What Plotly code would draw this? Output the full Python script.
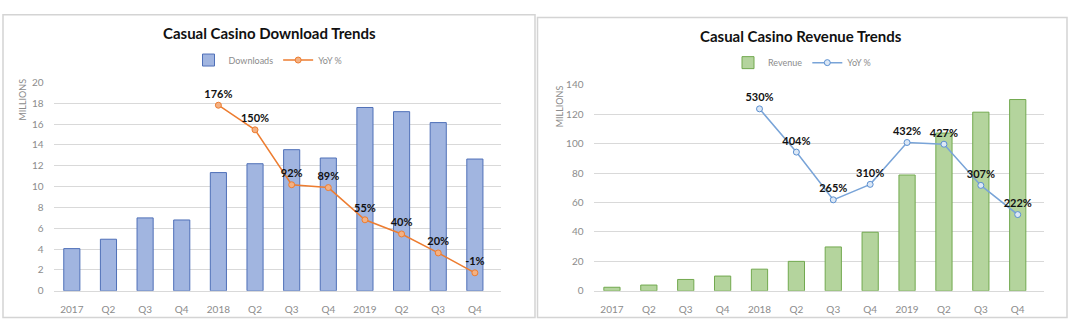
import plotly.graph_objects as go

categories = ["2017", "Q2", "Q3", "Q4", "2018", "Q2 ", "Q3 ", "Q4 ", "2019", "Q2  ", "Q3  ", "Q4  "]
tick_labels = ["2017", "Q2", "Q3", "Q4", "2018", "Q2", "Q3", "Q4", "2019", "Q2", "Q3", "Q4"]

downloads = [4.05, 4.95, 7.0, 6.8, 11.35, 12.2, 13.55, 12.75, 17.6, 17.2, 16.15, 12.65]
downloads_yoy_cats = categories[4:]
downloads_yoy = [176, 150, 92, 89, 55, 40, 20, -1]

revenue = [2.4, 3.9, 7.7, 10.0, 14.7, 20.0, 29.8, 39.8, 78.7, 107.2, 121.4, 130.0]
revenue_yoy_cats = categories[4:]
revenue_yoy = [530, 404, 265, 310, 432, 427, 307, 222]

FONT = "Lato"
GRAY = "#8c8c8c"
GRID = "#d9d9d9"
W, H = 1080, 336

def px(x):
    return x / W

def py(y):
    return 1 - y / H

fig = go.Figure()

# Left chart
fig.add_trace(go.Bar(
    x=categories, y=downloads, name="Downloads",
    marker=dict(color="#a1b5e0", line=dict(color="#4f70b8", width=1)),
    xaxis="x", yaxis="y", legend="legend", width=0.44,
))
fig.add_trace(go.Scatter(
    x=downloads_yoy_cats, y=downloads_yoy, name="YoY %",
    mode="lines+markers+text",
    text=[f"{v}%" for v in downloads_yoy], textposition="top center",
    textfont=dict(family=FONT, size=11, color="#111111", weight="bold"),
    line=dict(color="#ed7d31", width=1.5),
    marker=dict(symbol="circle", size=6, color="#f4b183", line=dict(color="#ed7d31", width=1)),
    xaxis="x", yaxis="y3", legend="legend",
))

# Right chart
fig.add_trace(go.Bar(
    x=categories, y=revenue, name="Revenue",
    marker=dict(color="#b4d49d", line=dict(color="#72a94f", width=1)),
    xaxis="x2", yaxis="y2", legend="legend2", width=0.44,
))
fig.add_trace(go.Scatter(
    x=revenue_yoy_cats, y=revenue_yoy, name="YoY %",
    mode="lines+markers+text",
    text=[f"{v}%" for v in revenue_yoy], textposition="top center",
    textfont=dict(family=FONT, size=11, color="#111111", weight="bold"),
    line=dict(color="#79a4d8", width=1.5),
    marker=dict(symbol="circle", size=6, color="#dce8f6", line=dict(color="#5b8fd0", width=1)),
    xaxis="x2", yaxis="y4", legend="legend2",
))

xcommon = dict(
    type="category", categoryorder="array", categoryarray=categories,
    tickmode="array", tickvals=categories, ticktext=tick_labels,
    tickfont=dict(family=FONT, size=10, color=GRAY),
    showgrid=False, showline=True, linecolor=GRID, linewidth=1,
    ticks="", ticklabelstandoff=9, fixedrange=True,
)
ycommon = dict(
    tickfont=dict(family=FONT, size=10, color=GRAY),
    showgrid=True, gridcolor=GRID, gridwidth=1, zeroline=False,
    showline=False, ticks="", ticklabelstandoff=9, fixedrange=True,
)

fig.update_layout(
    width=W, height=H, autosize=False,
    margin=dict(l=0, r=0, t=0, b=0),
    paper_bgcolor="white", plot_bgcolor="white",
    font=dict(family=FONT),
    bargap=0.56,
    xaxis=dict(domain=[px(53.5), px(501)], anchor="y", **xcommon),
    yaxis=dict(domain=[py(294.3), py(78.3)], range=[0, 20], dtick=2, anchor="x", **ycommon),
    yaxis3=dict(overlaying="y", range=[-20, 200], visible=False, anchor="x"),
    xaxis2=dict(domain=[px(593.5), px(1044)], anchor="y2", **xcommon),
    yaxis2=dict(domain=[py(294.3), py(80.7)], range=[0, 140], dtick=20, anchor="x2", **ycommon),
    yaxis4=dict(overlaying="y2", range=[0, 600], visible=False, anchor="x2"),
    legend=dict(orientation="h", x=px(268), y=py(55), xanchor="center", yanchor="middle",
                font=dict(family=FONT, size=9, color=GRAY), bgcolor="rgba(0,0,0,0)",
                itemwidth=30, tracegroupgap=0),
    legend2=dict(orientation="h", x=px(802), y=py(57.7), xanchor="center", yanchor="middle",
                 font=dict(family=FONT, size=9, color=GRAY), bgcolor="rgba(0,0,0,0)",
                 itemwidth=30, tracegroupgap=0),
    annotations=[
        dict(text="<b>Casual Casino Download Trends</b>", x=px(269), y=py(27), xref="paper", yref="paper",
             showarrow=False, font=dict(family=FONT, size=15, color="#111111"), xanchor="center", yanchor="middle"),
        dict(text="<b>Casual Casino Revenue Trends</b>", x=px(801), y=py(30), xref="paper", yref="paper",
             showarrow=False, font=dict(family=FONT, size=15, color="#111111"), xanchor="center", yanchor="middle"),
        dict(text="MILLIONS", x=px(23), y=py(96), xref="paper", yref="paper", textangle=-90,
             showarrow=False, font=dict(family=FONT, size=9, color=GRAY), xanchor="center", yanchor="middle"),
        dict(text="MILLIONS", x=px(559), y=py(103), xref="paper", yref="paper", textangle=-90,
             showarrow=False, font=dict(family=FONT, size=9, color=GRAY), xanchor="center", yanchor="middle"),
    ],
    shapes=[
        dict(type="rect", xref="paper", yref="paper", x0=px(3), x1=px(535), y0=py(322), y1=py(8),
             line=dict(color="#d4d4d4", width=1.5), fillcolor="rgba(0,0,0,0)", layer="below"),
        dict(type="rect", xref="paper", yref="paper", x0=px(537.5), x1=px(1067), y0=py(322), y1=py(11),
             line=dict(color="#d4d4d4", width=1.5), fillcolor="rgba(0,0,0,0)", layer="below"),
    ],
)

fig.write_html("out.html", post_script="document.body.style.margin='0';")
